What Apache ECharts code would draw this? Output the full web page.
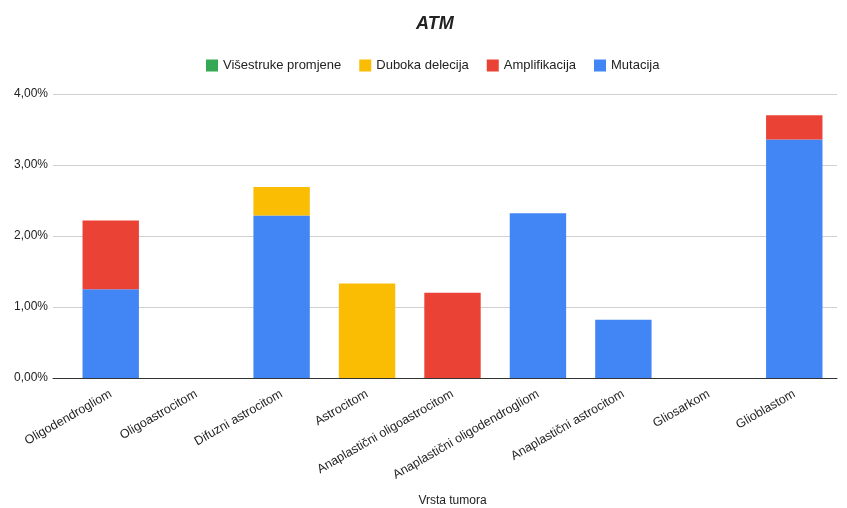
<!DOCTYPE html>
<html><head><meta charset="utf-8">
<script src="https://cdn.jsdelivr.net/npm/echarts@6/dist/echarts.min.js"></script>
<style>html,body{margin:0;padding:0;background:#fff}#c{width:847px;height:508px}</style>
</head><body><div id="c"></div>
<script>
const categories = ['Oligodendrogliom','Oligoastrocitom','Difuzni astrocitom','Astrocitom','Anaplastični oligoastrocitom','Anaplastični oligodendrogliom','Anaplastični astrocitom','Gliosarkom','Glioblastom'];
const mutacija =      [1.25, 0, 2.29, 0,    0,    2.32, 0.82, 0, 3.36];
const amplifikacija = [0.97, 0, 0,    0,    1.20, 0,    0,    0, 0.34];
const dubokaDelecija =[0,    0, 0.40, 1.33, 0,    0,    0,    0, 0];
const visestruke =    [0,    0, 0,    0,    0,    0,    0,    0, 0];
const yTicks = [0, 1, 2, 3, 4];

const chart = echarts.init(document.getElementById('c'));
const font = 'Liberation Sans, Arial, sans-serif';
function mk(name, data, color){
  return {name, type:'bar', stack:'s', data, xAxisIndex:1, yAxisIndex:1, barCategoryGap:'34%', itemStyle:{color}, emphasis:{disabled:true}};
}
const yMin = yTicks[0], yMax = yTicks[yTicks.length-1];
chart.setOption({
  animation:false,
  title:{text:'ATM', left:411, top:10,
    textStyle:{fontFamily:font, fontSize:18, fontWeight:'bold', fontStyle:'italic', color:'#222'}},
  legend:{data:['Višestruke promjene','Duboka delecija','Amplifikacija','Mutacija'],
    top:54, left:201, itemWidth:12, itemHeight:12, itemGap:18, icon:'rect',
    textStyle:{fontFamily:font, fontSize:13, color:'#222'}},
  grid:[
    {left:53, right:10, top:94, bottom:130, containLabel:false, outerBoundsMode:'none'},
    {left:68, right:10, top:94, bottom:130, containLabel:false, outerBoundsMode:'none'}
  ],
  xAxis:[
    {type:'value', gridIndex:0, min:0, max:1, show:true, axisLabel:{show:false}, axisTick:{show:false},
      splitLine:{show:false}, axisLine:{show:true, lineStyle:{color:'#333'}}},
    {type:'category', gridIndex:1, data:categories, name:'Vrsta tumora', nameLocation:'middle', nameGap:117,
      nameTextStyle:{fontFamily:font, fontSize:12, color:'#222'},
      axisTick:{show:false}, axisLine:{show:false},
      axisLabel:{interval:0, rotate:30, fontFamily:font, fontSize:12.5, color:'#222', margin:15}}
  ],
  yAxis:[
    {type:'value', gridIndex:0, min:yMin, max:yMax, interval:1,
      axisLabel:{fontFamily:font, fontSize:12, color:'#222', margin:5,
        formatter:v=>v.toFixed(2).replace('.',',')+'%'},
      splitLine:{lineStyle:{color:'#d0d0d0'}}, axisLine:{show:false}, axisTick:{show:false}},
    {type:'value', gridIndex:1, min:yMin, max:yMax, interval:1, show:false, splitLine:{show:false}}
  ],
  series:[
    mk('Mutacija', mutacija, '#4285f4'),
    mk('Amplifikacija', amplifikacija, '#ea4335'),
    mk('Duboka delecija', dubokaDelecija, '#fbbc04'),
    mk('Višestruke promjene', visestruke, '#34a853')
  ]
});
</script></body></html>
